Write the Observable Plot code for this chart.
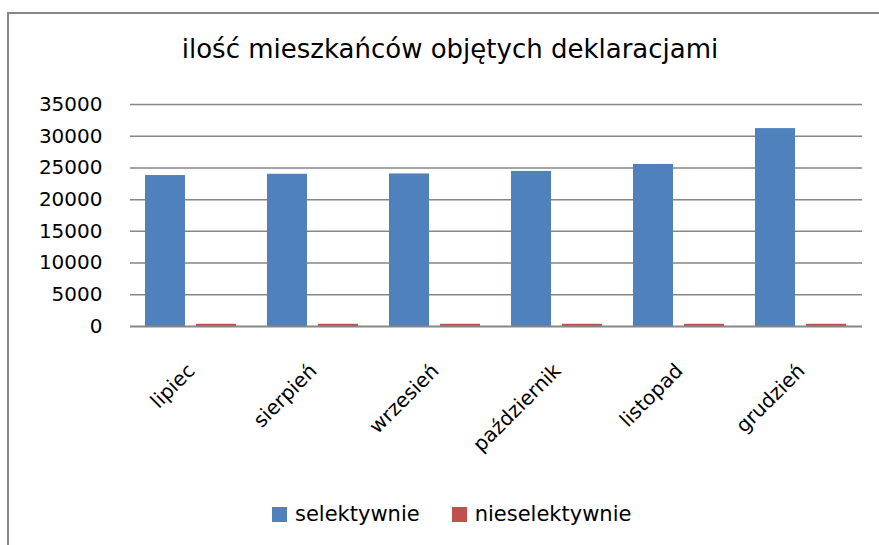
<!DOCTYPE html>
<html>
<head>
<meta charset="utf-8">
<script src="https://cdn.jsdelivr.net/npm/d3@7"></script>
<script src="https://cdn.jsdelivr.net/npm/@observablehq/plot@0.6"></script>
<style>
  html, body { margin: 0; padding: 0; background: #fff; overflow: hidden; }
  #page { position: relative; width: 879px; height: 545px; overflow: hidden; background: #fff; font-family: "DejaVu Sans", sans-serif; }
  #frameTop { position: absolute; left: 7px; top: 12px; width: 872px; height: 2px; background: #878787; }
  #frameLeft { position: absolute; left: 7px; top: 12px; width: 2px; height: 533px; background: #878787; }
  #title { position: absolute; left: 0; top: 36px; width: 900px; text-align: center; font-size: 26px; line-height: 26px; color: #000; white-space: nowrap; }
  #chart { position: absolute; left: 0; top: 0; }
  #legend { position: absolute; left: 272px; top: 504px; font-size: 21px; line-height: 21px; color: #000; white-space: nowrap; display: flex; align-items: flex-start; }
  .sw { display: inline-block; width: 15px; height: 15px; margin-top: 3px; margin-right: 8px; }
  .item { display: flex; align-items: flex-start; margin-right: 32px; }
</style>
</head>
<body>
<div id="page">
  <div id="frameTop"></div>
  <div id="frameLeft"></div>
  <div id="chart"></div>
  <div id="title"></div>
  <div id="legend"></div>
</div>
<script>
const titleText = "ilość mieszkańców objętych deklaracjami";
const months = ["lipiec", "sierpień", "wrzesień", "październik", "listopad", "grudzień"];
const seriesNames = ["selektywnie", "nieselektywnie"];
const selektywnie = [23800, 24000, 24050, 24450, 25550, 31200];
const nieselektywnie = [350, 350, 350, 350, 350, 350];
const yTicks = [0, 5000, 10000, 15000, 20000, 25000, 30000, 35000];
const seriesColors = ["#4F81BD", "#C0504D"];

const data = [];
months.forEach((m, i) => {
  data.push({month: m, series: seriesNames[0], value: selektywnie[i]});
  data.push({month: m, series: seriesNames[1], value: nieselektywnie[i]});
});

document.getElementById("title").textContent = titleText;

const chart = Plot.plot({
  width: 879,
  height: 480,
  marginLeft: 130,
  marginRight: 17,
  marginTop: 104,
  marginBottom: 154,
  style: {fontFamily: "DejaVu Sans, sans-serif", fontSize: "20px", color: "#000", background: "transparent", overflow: "visible"},
  facet: {data, x: "month"},
  fx: {domain: months, padding: 0, label: null, axis: "bottom", tickRotate: -45, tickSize: 0, tickPadding: 41},
  x: {domain: seriesNames, axis: null, paddingInner: 0.2136, paddingOuter: 0.2914},
  y: {domain: [0, 35000], ticks: yTicks, tickSize: 0, tickPadding: 28, label: null, tickFormat: d => String(d)},
  color: {domain: seriesNames, range: seriesColors},
  marks: [
    Plot.ruleY(yTicks.filter(d => d > 0), {stroke: "#868686", strokeWidth: 1.5}),
    Plot.barY(data, {x: "series", y: "value", fill: "series"}),
    Plot.ruleY([0], {stroke: "#868686", strokeWidth: 2})
  ]
});
document.getElementById("chart").appendChild(chart);

const legend = document.getElementById("legend");
seriesNames.forEach((s, i) => {
  const item = document.createElement("div");
  item.className = "item";
  const sw = document.createElement("span");
  sw.className = "sw";
  sw.style.background = seriesColors[i];
  const t = document.createElement("span");
  t.textContent = s;
  item.appendChild(sw);
  item.appendChild(t);
  legend.appendChild(item);
});
</script>
</body>
</html>
